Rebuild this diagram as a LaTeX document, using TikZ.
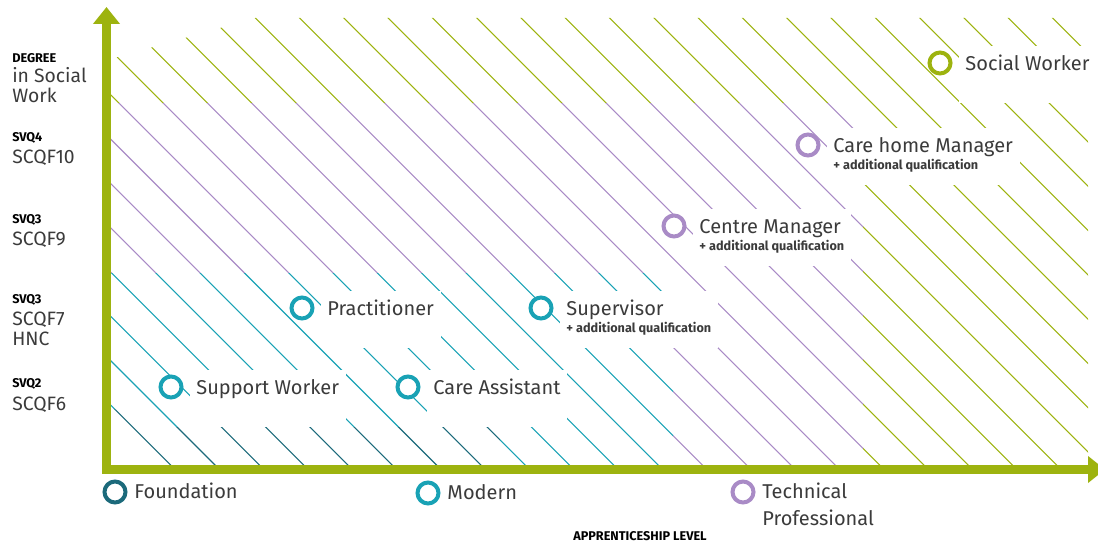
\documentclass[tikz,border=0pt]{standalone}
\usepackage{fontspec}
\setmainfont{Fira Sans}
\usetikzlibrary{positioning,arrows.meta}

\definecolor{leaf}{HTML}{9DB30F}
\definecolor{lilac}{HTML}{A98BC6}
\definecolor{lagoon}{HTML}{19A2B5}
\definecolor{deepsea}{HTML}{1C6A7B}
\definecolor{ink}{HTML}{3B3B3B}

\newcommand\lbl{\fontsize{15}{18}\selectfont}
\newcommand\extra{\fontsize{9.5}{10}\selectfont\bfseries}
% diagonal stripes, one colour per zone
\newcommand\hatchlines[1]{\foreach \k in {-1,...,29} \draw[hatch,#1] ({-250+44.3*\k},0) -- ++(560,560);}

\begin{document}
\begin{tikzpicture}[x=0.75pt, y=-0.75pt,
    hatch/.style={line width=0.8pt},
    spot/.style={circle, draw=#1, fill=white, line width=3pt, minimum size=15.75pt, inner sep=0pt},
    tag/.style={fill=white, text=ink, font=\lbl, align=left, inner xsep=5pt, inner ysep=0pt, text height=17.8pt, text depth=25pt},
    tagtwo/.style={tag, text height=30.55pt, text depth=12.25pt},
    axis/.style={leaf, line width=6.75pt, line join=miter},
    level/.style={text=ink, font=\fontsize{14.5}{15}\selectfont, align=left, inner sep=0pt, anchor=base west},
    grade/.style={text=black, font=\fontsize{9.5}{10}\selectfont\bfseries, inner sep=0pt, anchor=base west},
    legend/.style={text=ink, font=\lbl, inner sep=0pt, text height=10.3pt, text depth=0pt}
]
\useasboundingbox (0,0) rectangle (1098,542);

% stripes
\begin{scope}
  \clip (111,59) -- (255,18) -- (1088,18) -- (1088,465) -- (863,465) -- (863,103) -- (111,103) -- cycle;
  \hatchlines{leaf}
\end{scope}
\begin{scope}
  \clip (111,103) -- (863,103) -- (863,465) -- (673,465) -- (673,273) -- (111,273) -- cycle;
  \hatchlines{lilac}
\end{scope}
\begin{scope}
  \clip (111,273) -- (673,273) -- (673,465) -- (500,465) -- (500,427) -- (175,427) -- (111,408) -- cycle;
  \hatchlines{lagoon}
\end{scope}
\begin{scope}
  \clip (111,408) -- (175,427) -- (500,427) -- (500,465) -- (111,465) -- cycle;
  \hatchlines{deepsea}
\end{scope}

% axes
\coordinate (o) at (106.5,469.5);
\coordinate (ytip) at (106.5,7);
\coordinate (xtip) at (1105,469.5);
\draw[axis, {Triangle[width=19.5pt,length=12.75pt]}-{Triangle[width=19.5pt,length=12.75pt]}] (ytip) -- (o) -- (xtip);

% levels
\node[grade] (deg) at (12,63) {DEGREE};
\node[level] (degt) at (12,103) {in Social\\Work};
\node[grade] (svq4) at (12,141) {SVQ4};
\node[level] (scqf10) at (12,163) {SCQF10};
\node[grade] (svq3a) at (12,223) {SVQ3};
\node[level] (scqf9) at (12,245) {SCQF9};
\node[grade] (svq3b) at (12,303) {SVQ3};
\node[level] (scqf7) at (12,345) {SCQF7\\HNC};
\node[grade] (svq2) at (12,387) {SVQ2};
\node[level] (scqf6) at (12,410) {SCQF6};

% roles
\node[spot=leaf] (socw) at (940,63) {};
\node[spot=lilac] (chm) at (808,145) {};
\node[spot=lilac] (cm) at (674,226) {};
\node[spot=lagoon] (sup) at (541,308) {};
\node[spot=lagoon] (pra) at (302,308) {};
\node[spot=lagoon] (supw) at (171,387) {};
\node[spot=lagoon] (ca) at (408,387) {};

\node[tag, below right=-12.75pt and 4.5pt of socw.east] (socwt) {Social Worker};
\node[tagtwo, below right=-12.75pt and 4.5pt of chm.east] (chmt) {Care home Manager\\[-5.25pt]{\extra + additional qualification}};
\node[tagtwo, below right=-12.75pt and 4.5pt of cm.east] (cmt) {Centre Manager\\[-5.25pt]{\extra + additional qualification}};
\node[tagtwo, below right=-12.75pt and 4.5pt of sup.east] (supt) {Supervisor\\[-5.25pt]{\extra + additional qualification}};
\node[tag, below right=-12.75pt and 4.5pt of pra.east] (prat) {Practitioner};
\node[tag, below right=-12.75pt and 4.5pt of supw.east] (supwt) {Support Worker};
\node[tag, below right=-12.75pt and 4.5pt of ca.east] (cat) {Care Assistant};

% apprenticeship key
\node[spot=deepsea] (fnd) at (115,492) {};
\node[legend, right=5pt of fnd] (fndt) {Foundation};
\node[spot=lagoon] (mod) at (428,493) {};
\node[legend, right=5pt of mod] (modt) {Modern};
\node[spot=lilac] (tec) at (743,492) {};
\node[legend, right=5pt of tec] (tect) {Technical};
\node[legend, anchor=base west] (tecp) at ([yshift=-20pt]tect.base west) {Professional};
\node[grade, anchor=base] (app) at (640,540) {APPRENTICESHIP LEVEL};
\end{tikzpicture}
\end{document}
